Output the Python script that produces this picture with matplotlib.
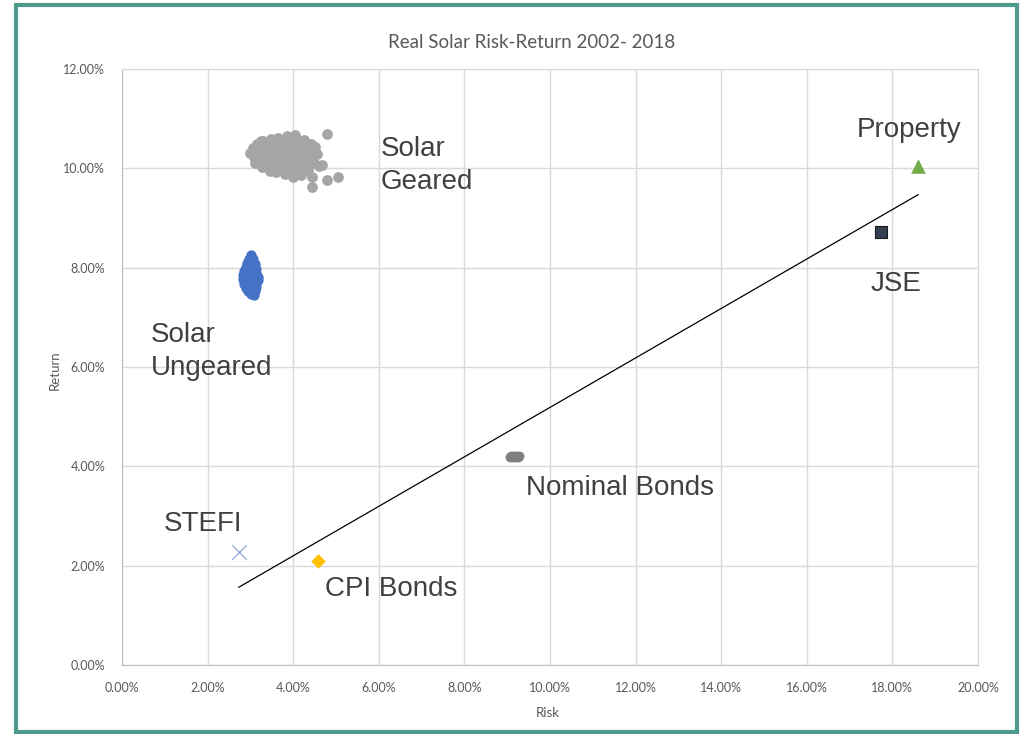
import numpy as np
import matplotlib
matplotlib.use("Agg")
import matplotlib.pyplot as plt
from matplotlib.patches import Rectangle
from matplotlib.ticker import PercentFormatter

# Solar geared: risk (%), return (%)
geared_x = [3.00, 3.05, 3.08, 3.15, 3.18, 3.20, 3.25, 3.30, 3.32, 3.35, 3.38, 3.40,
            3.48, 3.50, 3.52, 3.55, 3.58, 3.60, 3.65, 3.68, 3.70, 3.72, 3.75, 3.78,
            3.80, 3.85, 3.88, 3.90, 3.92, 3.94, 3.96, 3.98, 4.00, 4.05, 4.06, 4.08,
            4.10, 4.12, 4.14, 4.15, 4.18, 4.25, 4.27, 4.28, 4.30, 4.32, 4.34, 4.42,
            4.45, 4.46, 4.48, 4.52, 4.55, 4.60, 3.10, 3.28, 3.45,
            4.78, 4.43, 4.78, 5.05, 4.43, 4.67]
geared_y = [10.30, 10.40, 10.22, 10.48, 10.33, 10.15, 10.55, 10.55, 10.42, 10.28, 10.10, 10.00,
            10.60, 10.47, 10.35, 10.20, 10.05, 9.92, 10.62, 10.50, 10.38, 10.25, 10.12, 9.98,
            9.88, 10.66, 10.55, 10.42, 10.30, 10.18, 10.05, 9.92, 9.82, 10.68, 10.57, 10.45,
            10.32, 10.20, 10.07, 9.95, 9.86, 10.58, 10.45, 10.33, 10.20, 10.08, 9.96, 10.50,
            10.36, 10.22, 10.10, 10.42, 10.28, 10.05, 10.10, 10.02, 9.95,
            10.70, 9.83, 9.77, 9.82, 9.63, 10.07]

# Solar ungeared
ungeared_x = [3.02, 2.97, 3.06, 2.93, 3.02, 3.10, 2.90, 2.98, 3.07, 3.13,
              2.85, 2.94, 3.03, 3.12, 2.82, 2.90, 2.99, 3.08, 3.17,
              2.82, 2.91, 3.00, 3.09, 3.18, 2.85, 2.94, 3.03, 3.12,
              2.89, 2.98, 3.07, 3.14, 2.95, 3.04, 3.11, 3.01, 3.08]
ungeared_y = [8.25, 8.18, 8.17, 8.10, 8.10, 8.08, 8.02, 8.02, 8.00, 7.98,
              7.94, 7.93, 7.92, 7.90, 7.86, 7.85, 7.84, 7.83, 7.82,
              7.77, 7.76, 7.76, 7.75, 7.76, 7.68, 7.68, 7.67, 7.67,
              7.60, 7.60, 7.59, 7.62, 7.53, 7.52, 7.54, 7.46, 7.45]

nominal_x = [9.07, 9.10, 9.13, 9.16, 9.19, 9.22, 9.25, 9.28]
nominal_y = [4.19, 4.20, 4.19, 4.20, 4.19, 4.20, 4.19, 4.20]

stefi = (2.73, 2.28)
cpi = (4.58, 2.09)
jse = (17.73, 8.72)
prop = (18.60, 10.05)

# trendline through the asset classes
tx = [stefi[0], cpi[0], np.mean(nominal_x), jse[0], prop[0]]
ty = [stefi[1], cpi[1], np.mean(nominal_y), jse[1], prop[1]]
slope, icpt = np.polyfit(tx, ty, 1)
line_x = np.array([min(tx), max(tx)])

fig = plt.figure(figsize=(10.25, 7.34), dpi=100)
ax = fig.add_axes([122/1025, 1-665/734, (978-122)/1025, (665-69)/734])

ax.scatter(geared_x, geared_y, s=60, color='#A5A5A5', linewidths=0, zorder=3)
ax.scatter(ungeared_x, ungeared_y, s=55, color='#4472C4', linewidths=0, zorder=3)
ax.scatter(nominal_x, nominal_y, s=50, color='#7F7F7F', linewidths=0, zorder=3)
ax.scatter(*stefi, s=110, marker='x', color='#8FAADC', linewidths=0.9, zorder=3)
ax.scatter(*cpi, s=55, marker='D', color='#FFC000', linewidths=0, zorder=3)
ax.scatter(*jse, s=80, marker='s', color='#333F50', edgecolors='#1a1a1a', linewidths=0.8, zorder=3)
ax.scatter(*prop, s=110, marker='^', color='#70AD47', linewidths=0, zorder=3)
ax.plot(line_x, slope*line_x + icpt, color='black', linewidth=0.9, zorder=2)

lbl = dict(fontsize=20, color='#404040', family='Liberation Sans', va='center', ha='left',
           linespacing=1.38)
ax.text(6.05, 10.06, "Solar\nGeared", **lbl)
ax.text(0.68, 6.31, "Solar\nUngeared", **lbl)
ax.text(17.17, 10.77, "Property", **lbl)
ax.text(17.48, 7.67, "JSE", **lbl)
ax.text(9.44, 3.56, "Nominal Bonds", **lbl)
ax.text(0.98, 2.84, "STEFI", **lbl)
ax.text(4.74, 1.53, "CPI Bonds", **lbl)

ax.set_xlim(0, 20)
ax.set_ylim(0, 12)
ax.set_xticks(np.arange(0, 20.1, 2))
ax.set_yticks(np.arange(0, 12.1, 2))
ax.xaxis.set_major_formatter(PercentFormatter(decimals=2))
ax.yaxis.set_major_formatter(PercentFormatter(decimals=2))
ax.grid(True, color='#D9D9D9', linewidth=1)
ax.set_axisbelow(True)
for side in ['top', 'right']:
    ax.spines[side].set_color('#D9D9D9')
for side in ['left', 'bottom']:
    ax.spines[side].set_color('#BFBFBF')
ax.tick_params(length=0, labelsize=9, labelcolor='#595959', pad=12)
for t in ax.get_xticklabels() + ax.get_yticklabels():
    t.set_family('Lato')

fig.text(532/1025, 1-42/734, "Real Solar Risk-Return 2002- 2018", ha='center', va='center',
         fontsize=13.5, color='#595959', family='Lato')
fig.text(55/1025, 1-370/734, "Return", rotation=90, ha='center', va='center',
         fontsize=9.5, color='#595959', family='Lato')
fig.text(548/1025, 1-713/734, "Risk", ha='center', va='center',
         fontsize=9.5, color='#595959', family='Lato')

# chart frame
fig.patches.append(Rectangle((16/1025, 1-732/734), (1017-16)/1025, (732-5)/734,
                             transform=fig.transFigure, fill=False,
                             edgecolor='#4E9A8C', linewidth=3))

fig.savefig("out.png", dpi=100, facecolor='white')
